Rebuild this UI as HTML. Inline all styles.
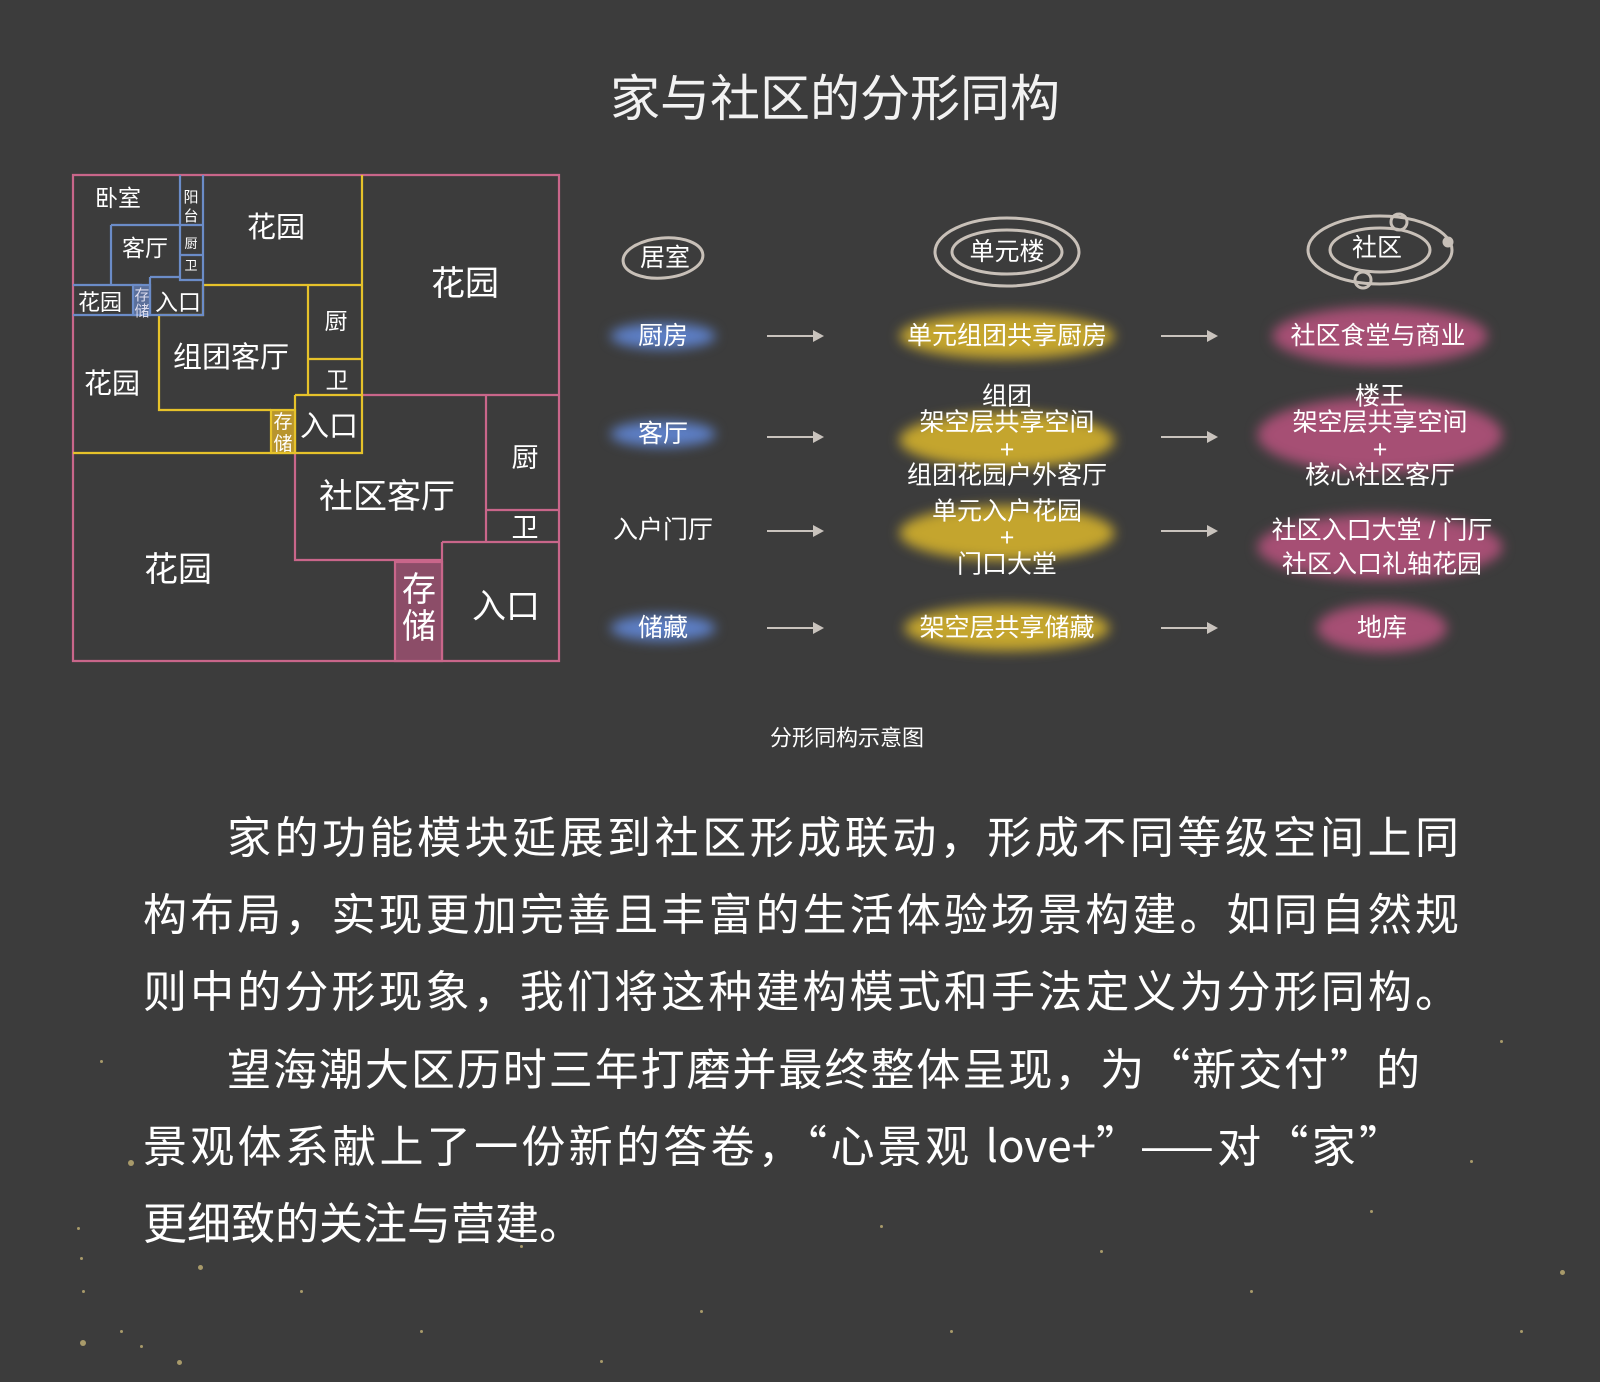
<!DOCTYPE html>
<html><head><meta charset="utf-8">
<style>
html,body{margin:0;padding:0}
body{width:1600px;height:1382px;background:#3c3c3c;position:relative;overflow:hidden;font-family:"Liberation Sans","Noto Sans CJK SC",sans-serif;color:#fff}
.a{position:absolute}
.t{position:absolute;transform:translate(-50%,-50%);white-space:nowrap;text-align:center;font-size:25px;line-height:1.05}
.g{position:absolute;transform:translate(-50%,-50%);border-radius:50%;filter:blur(6px)}
.arr{position:absolute;height:2px;background:#c9c3bd}
.arr:after{content:"";position:absolute;right:-2px;top:-5px;border-left:11px solid #c9c3bd;border-top:6px solid transparent;border-bottom:6px solid transparent}
.p{position:absolute;left:143px;width:1316px;font-size:44px;line-height:77px;text-align:justify;text-align-last:justify;white-space:nowrap;font-family:"Noto Sans CJK SC","Liberation Sans",sans-serif}
.dot{position:absolute;width:3px;height:3px;border-radius:50%;background:#a89a6a}
</style></head><body>
<div class="t" style="left:835px;top:99px;font-size:50px;color:#f2f2f2">家与社区的分形同构</div>

<svg class="a" style="left:0;top:0" width="600" height="700">
<g fill="none" stroke-width="2.2">
<path d="M73 175H559V661H73Z M362 395H559 M486 395V542 M486 510H559 M442 542H559 M442 542V661 M295 453V560H442" stroke="#c9668a"/>
<rect x="395" y="562" width="47" height="99" fill="#8c4d68" stroke="#c9668a"/>
<path d="M362 175V453H73 M203 285H362 M203 285V315H159V410H271 M308 285V395 M308 359H362 M295 395H362 M295 395V453" stroke="#e6c22a"/>
<rect x="271" y="410" width="24" height="43" fill="#b8952e" stroke="#e6c22a"/>
<path d="M180 175V280H203V175 M180 225H203 M180 255H203 M111 225H180 M111 225V285 M73 285H142 M73 315H150 M150 277V315H203V280 M150 277H180" stroke="#6b8cc8"/>
<rect x="133" y="285" width="17" height="30" fill="#5a6f9a" stroke="#6b8cc8"/>
</g>
<g fill="#fff" font-family="Liberation Sans,Noto Sans CJK SC,sans-serif" text-anchor="middle">
<text x="118" y="206" font-size="23">卧室</text>
<text x="191" y="202" font-size="15">阳</text><text x="191" y="221" font-size="15">台</text>
<text x="191" y="248" font-size="13">厨</text><text x="191" y="270" font-size="13">卫</text>
<text x="145" y="256" font-size="23">客厅</text>
<text x="276" y="237" font-size="29">花园</text>
<text x="465" y="295" font-size="34">花园</text>
<text x="100" y="310" font-size="22">花园</text>
<text x="142" y="300" font-size="15" fill="#dde">存</text><text x="142" y="316" font-size="15" fill="#dde">储</text>
<text x="178" y="310" font-size="23">入口</text>
<text x="231" y="367" font-size="29">组团客厅</text>
<text x="336" y="329" font-size="23">厨</text>
<text x="337" y="388" font-size="23">卫</text>
<text x="112" y="393" font-size="28">花园</text>
<text x="283" y="428" font-size="19">存</text><text x="283" y="450" font-size="19">储</text>
<text x="329" y="436" font-size="29">入口</text>
<text x="387" y="508" font-size="34">社区客厅</text>
<text x="525" y="467" font-size="27">厨</text>
<text x="525" y="537" font-size="27">卫</text>
<text x="178" y="581" font-size="34">花园</text>
<text x="419" y="601" font-size="34">存</text><text x="419" y="638" font-size="34">储</text>
<text x="506" y="618" font-size="34">入口</text>
</g>
</svg>

<svg class="a" style="left:0;top:0" width="1600" height="320">
<g fill="none" stroke="#d8cfc6" stroke-width="3" opacity="0.9">
<ellipse cx="663" cy="258" rx="40" ry="20" transform="rotate(-5 663 258)"/>
<ellipse cx="1007" cy="252" rx="72" ry="34"/>
<ellipse cx="1007" cy="252" rx="55" ry="22"/>
<ellipse cx="1380" cy="250" rx="72" ry="34"/>
<ellipse cx="1380" cy="250" rx="50" ry="22"/>
<circle cx="1399" cy="222" r="8"/><circle cx="1363" cy="280" r="8"/><circle cx="1448" cy="242" r="4" fill="#d8cfc6"/>
</g>
</svg>
<div class="t" style="left:665px;top:258px">居室</div>
<div class="t" style="left:1007px;top:252px">单元楼</div>
<div class="t" style="left:1377px;top:248px">社区</div>

<div class="g" style="left:663px;top:336px;width:105px;height:26px;background:#5d7fc6"></div>
<div class="g" style="left:663px;top:434px;width:105px;height:26px;background:#5d7fc6"></div>
<div class="g" style="left:663px;top:628px;width:105px;height:26px;background:#5d7fc6"></div>
<div class="g" style="left:1007px;top:336px;width:215px;height:46px;background:#c4a52e"></div>
<div class="g" style="left:1007px;top:440px;width:215px;height:55px;background:#c4a52e"></div>
<div class="g" style="left:1007px;top:533px;width:215px;height:55px;background:#c4a52e"></div>
<div class="g" style="left:1007px;top:628px;width:205px;height:46px;background:#c4a52e"></div>
<div class="g" style="left:1380px;top:336px;width:215px;height:58px;background:#a64f74"></div>
<div class="g" style="left:1380px;top:435px;width:245px;height:75px;background:#a64f74"></div>
<div class="g" style="left:1380px;top:547px;width:245px;height:65px;background:#a64f74"></div>
<div class="g" style="left:1382px;top:628px;width:130px;height:48px;background:#a64f74"></div>

<div class="t" style="left:663px;top:336px">厨房</div>
<div class="t" style="left:663px;top:434px">客厅</div>
<div class="t" style="left:663px;top:530px">入户门厅</div>
<div class="t" style="left:663px;top:628px">储藏</div>
<div class="t" style="left:1007px;top:336px">单元组团共享厨房</div>
<div class="t" style="left:1007px;top:436px">组团<br>架空层共享空间<br>+<br>组团花园户外客厅</div>
<div class="t" style="left:1007px;top:538px">单元入户花园<br>+<br>门口大堂</div>
<div class="t" style="left:1007px;top:628px">架空层共享储藏</div>
<div class="t" style="left:1378px;top:336px">社区食堂与商业</div>
<div class="t" style="left:1380px;top:436px">楼王<br>架空层共享空间<br>+<br>核心社区客厅</div>
<div class="t" style="left:1382px;top:548px;line-height:1.35">社区入口大堂 / 门厅<br>社区入口礼轴花园</div>
<div class="t" style="left:1382px;top:628px">地库</div>

<div class="arr" style="left:767px;top:335px;width:55px"></div>
<div class="arr" style="left:767px;top:436px;width:55px"></div>
<div class="arr" style="left:767px;top:530px;width:55px"></div>
<div class="arr" style="left:767px;top:627px;width:55px"></div>
<div class="arr" style="left:1161px;top:335px;width:55px"></div>
<div class="arr" style="left:1161px;top:436px;width:55px"></div>
<div class="arr" style="left:1161px;top:530px;width:55px"></div>
<div class="arr" style="left:1161px;top:627px;width:55px"></div>

<div class="t" style="left:847px;top:738px;font-size:22px">分形同构示意图</div>

<div class="p" style="top:796px;padding-left:84px;width:1232px">家的功能模块延展到社区形成联动，形成不同等级空间上同</div>
<div class="p" style="top:873px">构布局，实现更加完善且丰富的生活体验场景构建。如同自然规</div>
<div class="p" style="top:950px">则中的分形现象，我们将这种建构模式和手法定义为分形同构。</div>
<div class="p" style="top:1028px;padding-left:84px;width:1193px">望海潮大区历时三年打磨并最终整体呈现，为“新交付”的</div>
<div class="p" style="top:1105px;width:1260px">景观体系献上了一份新的答卷，“心景观 love+”——对“家”</div>
<div class="p" style="top:1182px;text-align-last:left">更细致的关注与营建。</div>

<div class="dot" style="left:77px;top:1227px"></div><div class="dot" style="left:80px;top:1257px"></div>
<div class="dot" style="left:82px;top:1290px"></div><div class="dot" style="left:80px;top:1340px;width:6px;height:6px"></div>
<div class="dot" style="left:128px;top:1160px;width:6px;height:6px"></div><div class="dot" style="left:177px;top:1360px;width:5px;height:5px"></div>
<div class="dot" style="left:198px;top:1265px;width:5px;height:5px"></div><div class="dot" style="left:120px;top:1330px"></div>
<div class="dot" style="left:140px;top:1345px"></div><div class="dot" style="left:300px;top:1290px"></div>
<div class="dot" style="left:520px;top:1245px"></div><div class="dot" style="left:700px;top:1310px"></div>
<div class="dot" style="left:950px;top:1330px"></div><div class="dot" style="left:1250px;top:1290px"></div>
<div class="dot" style="left:1560px;top:1270px;width:5px;height:5px"></div><div class="dot" style="left:1470px;top:1160px"></div>
<div class="dot" style="left:1370px;top:1210px"></div><div class="dot" style="left:880px;top:1225px"></div>
<div class="dot" style="left:1100px;top:1250px"></div><div class="dot" style="left:600px;top:1360px"></div>
<div class="dot" style="left:420px;top:1330px"></div><div class="dot" style="left:1500px;top:1040px"></div>
<div class="dot" style="left:100px;top:1060px"></div><div class="dot" style="left:1520px;top:1330px"></div>
</body></html>
